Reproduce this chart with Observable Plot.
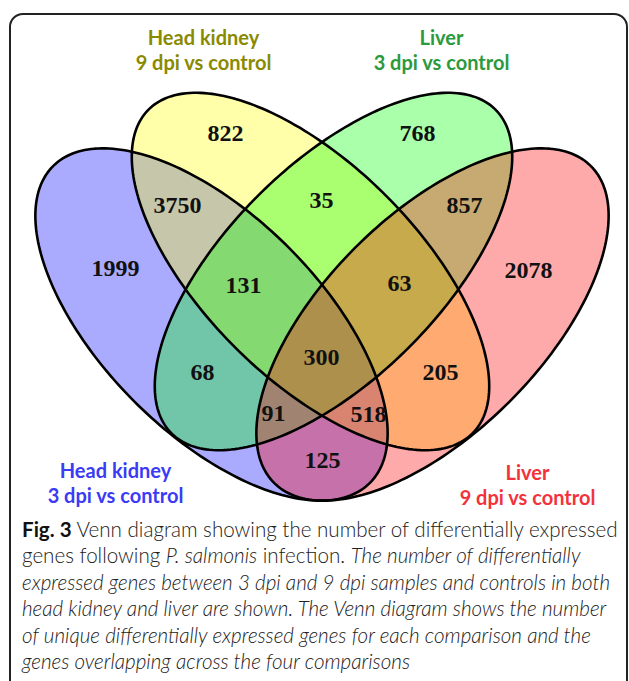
<!DOCTYPE html>
<html>
<head>
<meta charset="utf-8">
<script src="https://cdn.jsdelivr.net/npm/d3@7"></script>
<script src="https://cdn.jsdelivr.net/npm/@observablehq/plot@0.6"></script>
<style>
  html, body { margin: 0; padding: 0; background: #fff; }
  #page { position: relative; width: 629px; height: 681px; overflow: hidden; background: #fff; }
  #chart { position: absolute; left: 0; top: 0; }
  #frame { position: absolute; left: 9px; top: 13px; width: 615px; height: 720px;
           border: 2px solid #222; border-radius: 14px; pointer-events: none; }
  #caption { position: absolute; left: 22px; top: 516px; font-family: Lato, "Open Sans", sans-serif;
             font-weight: 300; font-size: 20.6px; line-height: 26.4px; color: #222; white-space: nowrap; }
  #caption b { font-weight: 700; color: #111; }
</style>
</head>
<body>
<div id="page">
  <div id="chart"></div>
  <div id="caption">
    <div><b>Fig. 3</b> Venn diagram showing the number of differentially expressed</div>
    <div>genes following <i>P. salmonis</i> infection. <i>The number of differentially</i></div>
    <div><i>expressed genes between 3 dpi and 9 dpi samples and controls in both</i></div>
    <div><i>head kidney and liver are shown. The Venn diagram shows the number</i></div>
    <div><i>of unique differentially expressed genes for each comparison and the</i></div>
    <div><i>genes overlapping across the four comparisons</i></div>
  </div>
  <div id="frame"></div>
</div>
<script>
// ---- data ----
const setTissues = ["Head kidney", "Head kidney", "Liver", "Liver"];
const setComparisons = ["3 dpi vs control", "9 dpi vs control", "3 dpi vs control", "9 dpi vs control"];
const regionSets = ["A", "B", "C", "D", "AB", "BC", "CD", "AC", "BD", "AD", "ABC", "BCD", "ACD", "ABD", "ABCD"];
const regionCounts = [1999, 822, 768, 2078, 3750, 35, 857, 68, 205, 125, 131, 63, 91, 518, 300];

// ---- styles ----
const setFills = ["#0000ff", "#ffff00", "#00ff00", "#ff0000"];
const setLabelColors = ["#3b3bf5", "#8a8a00", "#2b9a3c", "#f3323c"];

// ---- layout (drawing coordinates, y downward) ----
const ellipseCx = [211, 310, 333, 432];
const ellipseCy = [324, 271, 271, 324];
const ellipseA = [224, 229, 229, 224];
const ellipseB = [109, 107, 107, 109];
const ellipseAngle = [45, 45, -45, -45];
const setLabelX = [115, 203, 441, 527];
const setLabelY = [482, 49, 49, 484];
const regionX = [115, 225, 417, 528, 177, 321, 464, 202, 440, 322, 243, 399, 273, 368, 321];
const regionY = [268, 133, 133, 270, 205, 200, 205, 372, 372, 460, 285, 283, 413, 414, 357];

const W = 629, H = 515;

function ellipsePoints(i) {
  const n = 240, t = ellipseAngle[i] * Math.PI / 180;
  const pts = [];
  for (let k = 0; k < n; k++) {
    const s = 2 * Math.PI * k / n;
    const u = ellipseA[i] * Math.cos(s), v = ellipseB[i] * Math.sin(s);
    pts.push({set: i, x: ellipseCx[i] + u * Math.cos(t) - v * Math.sin(t), y: ellipseCy[i] + u * Math.sin(t) + v * Math.cos(t)});
  }
  return pts;
}
const ellipses = [0, 1, 2, 3].map(ellipsePoints);

const regions = regionSets.map((s, i) => ({sets: s, count: regionCounts[i], x: regionX[i], y: regionY[i]}));
const setLabels = setTissues.map((t, i) => ({label: t + "\n" + setComparisons[i], color: setLabelColors[i], x: setLabelX[i], y: setLabelY[i]}));

const marks = [];
ellipses.forEach((pts, i) => marks.push(Plot.line(pts, {x: "x", y: "y", curve: "linear-closed", fill: setFills[i], fillOpacity: 1/3, stroke: "none"})));
ellipses.forEach(pts => marks.push(Plot.line(pts, {x: "x", y: "y", curve: "linear-closed", fill: "none", stroke: "#000", strokeWidth: 2.6})));
marks.push(Plot.text(regions, {x: "x", y: "y", text: d => String(d.count), fontFamily: "'Liberation Serif', 'Times New Roman', serif",
  fontSize: 24, fontWeight: "bold", fill: "#111", textAnchor: "middle", lineAnchor: "middle"}));
marks.push(Plot.text(setLabels, {x: "x", y: "y", text: "label", fill: d => d.color, fontFamily: "Lato, 'Open Sans', sans-serif",
  fontSize: 20, fontWeight: "bold", textAnchor: "middle", lineAnchor: "middle", lineHeight: 1.25}));

const chart = Plot.plot({
  width: W, height: H,
  margin: 0,
  style: {background: "transparent", overflow: "visible"},
  x: {domain: [0, W], range: [0, W], axis: null},
  y: {domain: [0, H], range: [0, H], axis: null},
  color: {type: "identity"},
  marks
});
document.getElementById("chart").appendChild(chart);
</script>
</body>
</html>
